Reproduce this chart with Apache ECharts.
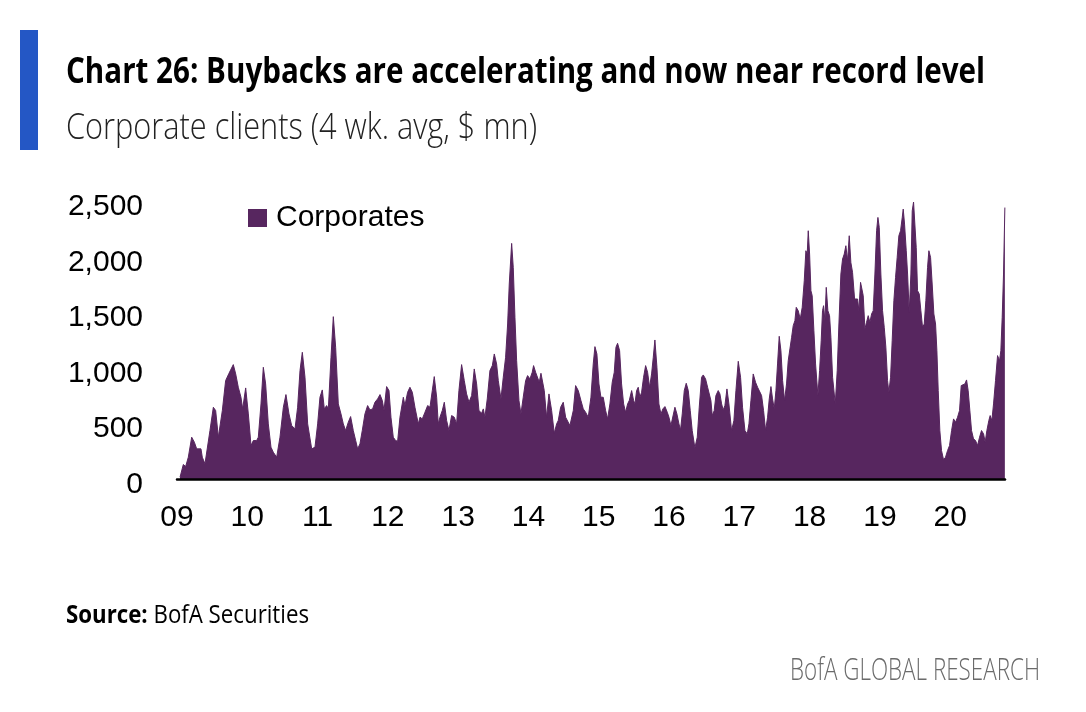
<!DOCTYPE html>
<html>
<head>
<meta charset="utf-8">
<script src="https://cdn.jsdelivr.net/npm/echarts@6/dist/echarts.min.js"></script>
<style>
html,body{margin:0;padding:0;background:#fff;}
#chart{width:1086px;height:712px;}
</style>
</head>
<body>
<div id="chart"></div>
<script>
// ---- data ----
const titleText = 'Chart 26: Buybacks are accelerating and now near record level';
const subtitleText = 'Corporate clients (4 wk. avg, $ mn)';
const sourceLabel = 'Source:';
const sourceText = ' BofA Securities';
const brandText = 'BofA GLOBAL RESEARCH';
const seriesName = 'Corporates';
const yTicks = [0, 500, 1000, 1500, 2000, 2500];
const yearTicks = [2009, 2010, 2011, 2012, 2013, 2014, 2015, 2016, 2017, 2018, 2019, 2020];

// dates as fractional years
const dates = [
2009.043,2009.090,2009.123,2009.161,2009.209,2009.247,2009.280,2009.303,2009.341,2009.360,
2009.398,2009.422,2009.469,2009.517,2009.550,2009.588,2009.612,2009.645,2009.692,2009.740,
2009.763,2009.801,2009.835,2009.872,2009.910,2009.934,2009.977,2010.015,2010.053,2010.086,
2010.133,2010.157,2010.195,2010.228,2010.261,2010.299,2010.337,2010.370,2010.394,2010.418,
2010.465,2010.513,2010.550,2010.593,2010.631,2010.655,2010.679,2010.716,2010.750,2010.783,
2010.821,2010.859,2010.916,2010.963,2011.001,2011.034,2011.067,2011.096,2011.129,2011.153,
2011.191,2011.224,2011.257,2011.295,2011.333,2011.366,2011.399,2011.437,2011.470,2011.508,
2011.542,2011.570,2011.603,2011.636,2011.674,2011.712,2011.745,2011.783,2011.816,2011.854,
2011.888,2011.921,2011.945,2011.982,2012.016,2012.044,2012.077,2012.110,2012.139,2012.172,
2012.220,2012.243,2012.281,2012.314,2012.348,2012.385,2012.433,2012.457,2012.490,2012.528,
2012.566,2012.599,2012.632,2012.660,2012.694,2012.717,2012.741,2012.774,2012.803,2012.836,
2012.869,2012.907,2012.945,2012.978,2013.011,2013.049,2013.087,2013.120,2013.154,2013.192,
2013.229,2013.263,2013.296,2013.334,2013.358,2013.381,2013.414,2013.452,2013.486,2013.514,
2013.547,2013.571,2013.609,2013.642,2013.675,2013.704,2013.727,2013.761,2013.784,2013.808,
2013.832,2013.865,2013.893,2013.926,2013.960,2013.988,2014.021,2014.054,2014.073,2014.102,
2014.130,2014.154,2014.178,2014.197,2014.225,2014.258,2014.292,2014.330,2014.367,2014.401,
2014.424,2014.458,2014.495,2014.529,2014.557,2014.590,2014.614,2014.638,2014.671,2014.709,
2014.747,2014.780,2014.813,2014.851,2014.889,2014.922,2014.946,2014.974,2015.003,2015.031,
2015.064,2015.098,2015.126,2015.159,2015.192,2015.221,2015.245,2015.268,2015.297,2015.325,
2015.354,2015.382,2015.411,2015.434,2015.468,2015.496,2015.515,2015.539,2015.562,2015.586,
2015.610,2015.638,2015.667,2015.695,2015.724,2015.752,2015.776,2015.799,2015.828,2015.856,
2015.885,2015.913,2015.942,2015.975,2015.999,2016.027,2016.055,2016.084,2016.112,2016.141,
2016.164,2016.188,2016.217,2016.245,2016.274,2016.302,2016.330,2016.368,2016.402,2016.430,
2016.463,2016.487,2016.520,2016.549,2016.568,2016.596,2016.615,2016.643,2016.667,2016.700,
2016.724,2016.748,2016.771,2016.795,2016.824,2016.852,2016.890,2016.923,2016.952,2016.985,
2017.018,2017.046,2017.080,2017.113,2017.137,2017.165,2017.198,2017.231,2017.260,2017.288,
2017.317,2017.345,2017.374,2017.402,2017.426,2017.450,2017.473,2017.497,2017.521,2017.544,
2017.568,2017.592,2017.616,2017.644,2017.672,2017.696,2017.720,2017.744,2017.767,2017.791,
2017.810,2017.838,2017.867,2017.895,2017.924,2017.947,2017.966,2017.981,2018.000,2018.019,
2018.037,2018.061,2018.085,2018.118,2018.142,2018.165,2018.184,2018.199,2018.218,2018.237,
2018.260,2018.284,2018.303,2018.327,2018.365,2018.393,2018.417,2018.445,2018.469,2018.493,
2018.516,2018.540,2018.564,2018.587,2018.611,2018.640,2018.668,2018.683,2018.701,2018.725,
2018.739,2018.763,2018.787,2018.810,2018.834,2018.858,2018.882,2018.905,2018.929,2018.953,
2018.972,2018.991,2019.014,2019.038,2019.062,2019.085,2019.109,2019.128,2019.152,2019.175,
2019.199,2019.223,2019.246,2019.270,2019.294,2019.318,2019.332,2019.351,2019.375,2019.394,
2019.417,2019.441,2019.460,2019.479,2019.498,2019.517,2019.536,2019.560,2019.583,2019.607,
2019.631,2019.654,2019.678,2019.697,2019.721,2019.744,2019.768,2019.792,2019.811,2019.830,
2019.853,2019.877,2019.906,2019.934,2019.963,2019.991,2020.020,2020.048,2020.076,2020.105,
2020.133,2020.157,2020.185,2020.209,2020.233,2020.256,2020.280,2020.304,2020.332,2020.361,
2020.389,2020.418,2020.446,2020.475,2020.498,2020.522,2020.550,2020.569,2020.593,2020.617,
2020.645,2020.674,2020.702,2020.721,2020.740,2020.759,2020.778
];

// Corporates, 4 wk. avg, $ mn
const corporates = [
21,135,117,201,381,336,276,261,276,201,
141,156,441,651,621,381,387,621,891,957,
966,1035,951,831,741,636,825,591,306,351,
351,381,681,1011,861,501,291,246,231,201,
381,651,765,591,486,486,456,651,981,1146,
921,501,276,291,501,741,807,636,666,636,
1101,1467,1191,681,591,501,441,516,567,441,
351,276,321,441,591,666,627,636,696,726,
765,711,621,837,801,561,381,351,345,561,
741,666,786,831,786,651,501,561,546,606,
666,651,801,927,741,501,561,621,696,531,
441,576,561,501,801,1035,891,771,696,756,
996,861,621,597,636,561,726,981,1026,1131,
1041,891,726,921,1101,1401,1761,2127,1911,1461,
1071,711,591,741,891,936,906,966,1026,966,
951,876,957,951,801,561,771,621,417,501,
531,651,696,561,546,486,501,621,846,801,
711,636,606,561,741,1041,1197,1131,861,741,
741,621,546,681,876,966,1191,1227,1161,861,
681,606,681,711,801,711,681,801,831,741,
786,921,1026,966,831,951,1101,1257,1011,681,
591,636,657,606,561,486,477,651,591,501,
447,591,801,867,801,621,441,285,381,651,
921,942,906,831,846,711,576,621,756,801,
771,681,627,666,816,681,441,531,801,1065,
921,651,441,411,501,711,951,876,831,846,
756,621,441,561,726,837,726,636,801,1041,
1290,1161,891,711,861,1071,1086,1281,1386,1431,
1551,1521,1446,1551,1791,2061,2031,2241,2031,1701,
1656,1341,1041,756,981,1251,1521,1566,1431,1731,
1521,1476,1281,921,681,981,1401,1851,1986,2031,
2106,1971,2196,1956,1866,1626,1611,1626,1521,1776,
1791,1656,1356,1416,1476,1416,1491,1521,1851,2241,
2361,2271,1851,1521,1371,1191,891,786,921,1251,
1611,1821,2001,2196,2241,2361,2436,2301,2061,1851,
1506,1851,2421,2500,2500,2091,1701,1671,1521,1371,
1401,1611,1911,2061,2001,1761,1491,1401,1161,801,
441,261,177,201,261,306,441,546,516,561,
621,846,846,861,897,801,621,441,366,351,
306,381,441,411,336,441,531,576,531,681,
891,1116,1071,1161,1461,1851,2450
];

// ---- chart ----
const PURPLE = '#57265f';
const BLUE = '#2457c5';
const FONT_AXIS = '"Liberation Sans", Arial, sans-serif';
const FONT_HEAD = '"Open Sans", "DejaVu Sans", sans-serif';

const mctx = document.createElement('canvas').getContext('2d');
function measure(text, font) { mctx.font = font; return mctx.measureText(text).width; }

const titleFont = 'bold 36px ' + FONT_HEAD;
const subFont = '300 36px ' + FONT_HEAD;
const srcBoldFont = 'bold 25px ' + FONT_HEAD;
const srcFont = '25px ' + FONT_HEAD;
const brandFont = '300 31px ' + FONT_HEAD;

const titleScale = 919 / measure(titleText, titleFont);
const subScale = 471 / measure(subtitleText, subFont);
const srcScale = 243 / (measure(sourceLabel, srcBoldFont) + measure(sourceText, srcFont));
const brandScale = 250 / measure(brandText, brandFont);

const data = dates.map((d, i) => [d, corporates[i]]);

const chart = echarts.init(document.getElementById('chart'), null, { renderer: 'canvas' });
chart.setOption({
  animation: false,
  backgroundColor: '#ffffff',
  grid: { left: 177, right: 81, top: 202, bottom: 232.5, containLabel: false },
  legend: {
    data: [seriesName],
    left: 248, top: 203, padding: 0,
    icon: 'rect', itemWidth: 19, itemHeight: 18,
    textStyle: { fontSize: 30, fontFamily: FONT_AXIS, color: '#000', padding: [0, 0, 0, 4] }
  },
  xAxis: {
    type: 'value', min: yearTicks[0], max: 2020.78, interval: 1,
    z: 10,
    splitLine: { show: false },
    axisTick: { show: false },
    axisLine: { show: true, onZero: false, lineStyle: { color: '#000', width: 2.5 } },
    axisLabel: {
      fontSize: 30, fontFamily: FONT_AXIS, color: '#000', margin: 23,
      showMaxLabel: false,
      formatter: v => {
        const r = Math.round(v);
        if (Math.abs(v - r) > 1e-6 || yearTicks.indexOf(r) < 0) return '';
        return String(r).slice(2);
      }
    }
  },
  yAxis: {
    type: 'value', min: yTicks[0], max: yTicks[yTicks.length - 1], interval: 500,
    splitLine: { show: false },
    axisTick: { show: false },
    axisLine: { show: false },
    axisLabel: {
      fontSize: 30, fontFamily: FONT_AXIS, color: '#000', margin: 34,
      verticalAlign: 'top', lineHeight: 10,
      formatter: v => v.toLocaleString('en-US')
    }
  },
  series: [{
    name: seriesName,
    type: 'line',
    data: data,
    symbol: 'none',
    showSymbol: false,
    z: 2,
    itemStyle: { color: PURPLE },
    lineStyle: { color: PURPLE, width: 1 },
    areaStyle: { color: PURPLE, opacity: 1 }
  }],
  graphic: [
    { type: 'rect', shape: { x: 20, y: 30, width: 18, height: 120 }, style: { fill: BLUE } },
    { type: 'text', x: 66, y: 55, scaleX: titleScale,
      style: { text: titleText, font: titleFont, fill: '#000', textAlign: 'left', textVerticalAlign: 'top' } },
    { type: 'text', x: 66, y: 111, scaleX: subScale,
      style: { text: subtitleText, font: subFont, fill: '#222', textAlign: 'left', textVerticalAlign: 'top' } },
    { type: 'text', x: 66, y: 603, scaleX: srcScale,
      style: { text: '{b|' + sourceLabel + '}' + sourceText, font: srcFont, fill: '#000',
        textAlign: 'left', textVerticalAlign: 'top',
        rich: { b: { font: srcBoldFont, fill: '#000' } } } },
    { type: 'text', x: 1040, y: 656, scaleX: brandScale,
      style: { text: brandText, font: brandFont, fill: '#6b6b6b', textAlign: 'right', textVerticalAlign: 'top' } }
  ]
});
</script>
</body>
</html>
